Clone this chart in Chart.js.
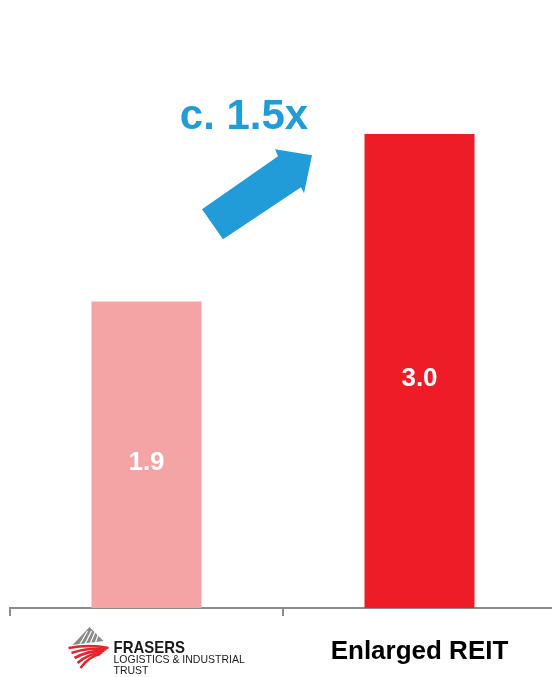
<!DOCTYPE html>
<html>
<head>
<meta charset="utf-8">
<script src="https://cdn.jsdelivr.net/npm/chart.js@4/dist/chart.umd.min.js"></script>
<style>
    html, body { margin: 0; padding: 0; background: #fff; overflow: hidden; }
    #wrap { width: 552px; height: 677px; overflow: hidden; }
</style>
</head>
<body>
<div id="wrap"><canvas id="reit-chart" width="560" height="677"></canvas></div>
<script>
// data
const categories = ["Frasers Logistics & Industrial Trust", "Enlarged REIT"];
const values = [1.94, 3.0];
const valueLabels = ["1.9", "3.0"];
const barColors = ['#F5A4A6', '#ED1C26'];
const growthLabel = "c. 1.5x";

const blue = '#229CD8';

// white value labels inside bars
const valueLabelPlugin = {
    id: 'valueLabels',
    afterDatasetsDraw(chart) {
        const ctx = chart.ctx;
        const meta = chart.getDatasetMeta(0);
        ctx.save();
        ctx.fillStyle = '#fff';
        ctx.font = 'bold 26px "Liberation Sans", Arial, sans-serif';
        ctx.textAlign = 'center';
        ctx.textBaseline = 'middle';
        meta.data.forEach((bar, i) => {
            const mid = (bar.y + bar.base) / 2 + 8;
            ctx.fillText(valueLabels[i], bar.x, mid);
        });
        ctx.restore();
    }
};

// growth arrow + "c. 1.5x"
const arrowPlugin = {
    id: 'growthArrow',
    afterDraw(chart) {
        const ctx = chart.ctx;
        const x = chart.scales.x;
        const y = chart.scales.y;
        const cx = x.getPixelForValue(0.5);   // boundary between categories
        const cy = y.getPixelForValue(2.6);
        const pts = [[-81, 12], [-60, 42], [18, -10], [21, -4], [29, -42], [-8, -48], [-5, -41]];
        ctx.save();
        ctx.fillStyle = blue;
        ctx.beginPath();
        pts.forEach((p, i) => {
            if (i === 0) ctx.moveTo(cx + p[0], cy + p[1]);
            else ctx.lineTo(cx + p[0], cy + p[1]);
        });
        ctx.closePath();
        ctx.fill();

        ctx.font = 'bold 42px "Liberation Sans", Arial, sans-serif';
        ctx.textAlign = 'center';
        ctx.textBaseline = 'alphabetic';
        ctx.fillText(growthLabel, cx - 39, cy - 68);
        ctx.restore();
    }
};

// category labels (logo for the first, text for the second)
const categoryLabelPlugin = {
    id: 'categoryLabels',
    afterDraw(chart) {
        const ctx = chart.ctx;
        const x = chart.scales.x;
        const top = chart.chartArea.bottom;
        ctx.save();

        // Enlarged REIT
        ctx.fillStyle = '#000';
        ctx.font = 'bold 26px "Liberation Sans", Arial, sans-serif';
        ctx.textAlign = 'center';
        ctx.textBaseline = 'alphabetic';
        ctx.fillText(categories[1], x.getPixelForValue(1), top + 51);

        // Frasers logo
        const lx = x.getPixelForValue(0) - 79;
        const ly = top + 19;
        // grey peak with stripes
        ctx.fillStyle = '#8a8a8a';
        ctx.beginPath();
        ctx.moveTo(lx + 22, ly);
        ctx.lineTo(lx + 36, ly + 14);
        ctx.lineTo(lx + 5, ly + 18);
        ctx.closePath();
        ctx.fill();
        ctx.strokeStyle = '#fff';
        ctx.lineWidth = 1.2;
        for (let i = 0; i < 4; i++) {
            ctx.beginPath();
            ctx.moveTo(lx + 12 + i * 5, ly + 18);
            ctx.lineTo(lx + 20 + i * 4, ly + 4);
            ctx.stroke();
        }
        // red swoosh stripes
        ctx.strokeStyle = '#E3262B';
        ctx.lineWidth = 2.6;
        ctx.lineCap = 'butt';
        for (let i = 0; i < 5; i++) {
            ctx.beginPath();
            ctx.moveTo(lx + 1 + i * 3, ly + 21 + i * 5);
            ctx.quadraticCurveTo(lx + 22, ly + 17 + i * 3, lx + 41 - i * 2, ly + 21 + i * 1.5);
            ctx.stroke();
        }

        ctx.fillStyle = '#1a1a1a';
        ctx.textAlign = 'left';
        ctx.save();
        ctx.translate(lx + 46, ly + 26);
        ctx.scale(0.88, 1);
        ctx.font = 'bold 17px "Liberation Sans", sans-serif';
        ctx.fillText('FRASERS', 0, 0);
        ctx.restore();
        ctx.font = '10.5px "Liberation Sans", sans-serif';
        ctx.fillText('LOGISTICS & INDUSTRIAL', lx + 46, ly + 36);
        ctx.fillText('TRUST', lx + 46, ly + 47);
        ctx.restore();
    }
};

const chartCanvas = document.getElementById('reit-chart');

const chartData = {
    labels: categories,
    datasets: [{
        data: values,
        backgroundColor: barColors,
        borderWidth: 0,
        barPercentage: 0.5,
        categoryPercentage: 0.806
    }]
};

const chartOptions = {
    responsive: false,
    animation: false,
    events: [],
    layout: {
        padding: { top: 55, bottom: 61, left: 10, right: 4 }
    },
    scales: {
        x: {
            offset: true,
            grid: {
                display: true,
                offset: true,
                drawOnChartArea: false,
                drawTicks: true,
                tickLength: 8,
                color: '#8c8c8c',
                lineWidth: 2
            },
            border: { display: true, color: '#8c8c8c', width: 2 },
            ticks: { display: false }
        },
        y: {
            display: false,
            min: 0,
            max: 3.5
        }
    },
    plugins: {
        legend: { display: false },
        tooltip: { enabled: false }
    }
};

let reitChart = new Chart(chartCanvas, {
    type: 'bar',
    data: chartData,
    options: chartOptions,
    plugins: [valueLabelPlugin, arrowPlugin, categoryLabelPlugin]
});
</script>
</body>
</html>
